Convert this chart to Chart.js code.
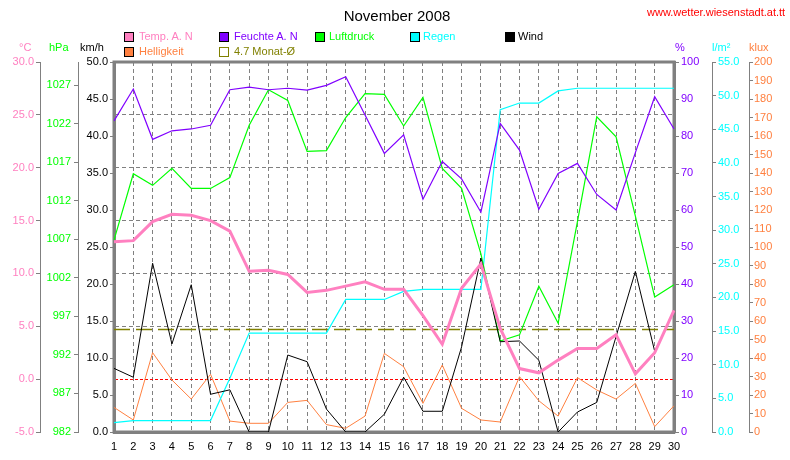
<!DOCTYPE html>
<html>
<head>
<meta charset="utf-8">
<script src="https://cdn.jsdelivr.net/npm/chart.js@4.4.1/dist/chart.umd.min.js"></script>
<style>
  body { margin: 0; background: #fff; }
  #wrap { position: relative; width: 790px; height: 460px; font-family: 'Liberation Sans', Arial, sans-serif; font-size: 11px; line-height: 1; }
  #wrap canvas { position: absolute; left: 0; top: 0; }
  .t { position: absolute; white-space: nowrap; }
  .box { position: absolute; width: 8px; height: 8px; border: 1px solid #000; }
</style>
</head>
<body>
<div id="wrap">
  <canvas id="chart" width="790" height="460"></canvas>

  <div class="t" style="left:0; width:794px; top:8px; text-align:center; font-size:15px; color:#000;">November 2008</div>
  <div class="t" style="left:647px; top:7px; color:#ff0000;">www.wetter.wiesenstadt.at.tt</div>

  <!-- Legende -->
  <div class="box" style="left:124px; top:32px; background:#ff80c0;"></div>
  <div class="t" style="left:139px; top:31px; color:#ff80c0;">Temp. A. N</div>
  <div class="box" style="left:219px; top:32px; background:#8000ff;"></div>
  <div class="t" style="left:234px; top:31px; color:#8000ff;">Feuchte A. N</div>
  <div class="box" style="left:315px; top:32px; background:#00ff00;"></div>
  <div class="t" style="left:329px; top:31px; color:#00ff00;">Luftdruck</div>
  <div class="box" style="left:410px; top:32px; background:#00ffff;"></div>
  <div class="t" style="left:423px; top:31px; color:#00ffff;">Regen</div>
  <div class="box" style="left:505px; top:32px; background:#000000;"></div>
  <div class="t" style="left:518px; top:31px; color:#000000;">Wind</div>
  <div class="box" style="left:124px; top:47px; background:#ff8040;"></div>
  <div class="t" style="left:139px; top:46px; color:#ff8040;">Helligkeit</div>
  <div class="box" style="left:219px; top:47px; border-color:#808000; background:#fff;"></div>
  <div class="t" style="left:234px; top:46px; color:#808000;">4.7 Monat-Ø</div>

  <!-- Einheiten -->
  <div class="t" style="left:19px; top:42px; color:#ff80c0;">°C</div>
  <div class="t" style="left:49px; top:42px; color:#00ff00;">hPa</div>
  <div class="t" style="left:80px; top:42px; color:#000000;">km/h</div>
  <div class="t" style="left:675px; top:42px; color:#8000ff;">%</div>
  <div class="t" style="left:712px; top:42px; color:#00ffff;">l/m²</div>
  <div class="t" style="left:749px; top:42px; color:#ff8040;">klux</div>
</div>

<script>
// Tage
const days = ['1', '2', '3', '4', '5', '6', '7', '8', '9', '10', '11', '12', '13', '14', '15',
              '16', '17', '18', '19', '20', '21', '22', '23', '24', '25', '26', '27', '28', '29', '30'];

const tempData  = [13.0, 13.1, 14.9, 15.6, 15.5, 15.0, 14.0, 10.2, 10.3, 9.9, 8.2, 8.4, 8.8, 9.2, 8.5,
                   8.5, 6.0, 3.3, 8.6, 10.9, 4.8, 1.0, 0.6, 1.8, 2.9, 2.9, 4.2, 0.5, 2.5, 6.5];
const humData   = [84.1, 92.7, 79.1, 81.4, 81.9, 82.9, 92.5, 93.2, 92.5, 92.9, 92.4, 93.7, 96.0, 85.7, 75.3,
                   80.3, 62.9, 73.1, 68.4, 59.4, 83.4, 76.2, 60.2, 69.9, 72.6, 64.2, 60.0, 75.5, 90.6, 81.9];
const pressData = [1006.9, 1015.5, 1014.0, 1016.2, 1013.6, 1013.6, 1015.0, 1021.8, 1026.4, 1025.0, 1018.4, 1018.5, 1022.8, 1025.9, 1025.8,
                   1021.7, 1025.4, 1016.2, 1013.6, 1005.1, 993.8, 994.6, 1000.9, 996.1, 1009.3, 1022.9, 1020.3, 1010.0, 999.5, 1001.1];
const rainData  = [1.4, 1.7, 1.7, 1.7, 1.7, 1.7, 8.0, 14.7, 14.7, 14.7, 14.7, 14.7, 19.7, 19.7, 19.7,
                   20.9, 21.2, 21.2, 21.2, 21.2, 47.9, 48.9, 48.9, 50.7, 51.1, 51.1, 51.1, 51.1, 51.1, 51.1];
const windData  = [8.6, 7.4, 22.8, 11.9, 19.9, 5.1, 5.7, 0, 0, 10.4, 9.5, 3.1, 0, 0, 2.4,
                   7.4, 2.8, 2.8, 11.5, 23.5, 12.2, 12.3, 9.7, 0, 2.7, 4.0, 12.9, 21.7, 10.9, null];
const luxData   = [13.3, 6.5, 42.9, 28.1, 17.8, 31.2, 5.9, 4.7, 4.7, 16.0, 17.1, 4.0, 2.0, 8.6, 42.5,
                   35.3, 15.5, 36.2, 12.8, 6.5, 5.4, 29.9, 16.9, 8.6, 29.4, 22.7, 17.8, 26.3, 2.9, 14.2];
const avgTemp = 4.7; // Monatsmittel

// Achsenbeschriftungen
const tempTicks = [-5, 0, 5, 10, 15, 20, 25, 30];
const hpaTicks  = [982, 987, 992, 997, 1002, 1007, 1012, 1017, 1022, 1027];
const windTicks = [0, 5, 10, 15, 20, 25, 30, 35, 40, 45, 50];
const humTicks  = [0, 10, 20, 30, 40, 50, 60, 70, 80, 90, 100];
const rainTicks = [0, 5, 10, 15, 20, 25, 30, 35, 40, 45, 50, 55];
const luxTicks  = [0, 10, 20, 30, 40, 50, 60, 70, 80, 90, 100, 110, 120, 130, 140, 150, 160, 170, 180, 190, 200];

const GREY = '#808080';

Chart.defaults.font.family = "'Liberation Sans', Arial, sans-serif";
Chart.defaults.font.size = 11;

function fixTicks(list) {
    return function (scale) { scale.ticks = list.map(v => ({ value: v })); };
}
function fixWidth(w) {
    return function (scale) { scale.width = w; };
}
// Nebenachse ohne Gitter im Diagramm
function sideAxis(pos, weight, min, max, list, width, color, tickLen, pad, digits) {
    return {
        position: pos, weight: weight, min: min, max: max,
        afterBuildTicks: fixTicks(list),
        afterFit: fixWidth(width),
        grid: { drawOnChartArea: false, tickColor: GREY, tickLength: tickLen },
        border: { color: GREY, width: 1 },
        ticks: { color: color, padding: pad, callback: v => v.toFixed(digits) }
    };
}

// Rahmen um den Plotbereich
const frame = {
    id: 'frame',
    beforeDatasetsDraw(chart) {
        const a = chart.chartArea, c = chart.ctx;
        c.save();
        c.strokeStyle = GREY;
        c.lineWidth = 3;
        c.strokeRect(a.left, a.top, a.right - a.left, a.bottom - a.top);
        c.restore();
    }
};

const yTemp = sideAxis('left', 2, -5, 30, tempTicks, 40, '#ff80c0', 4, 2, 1);
yTemp.grid = {
    drawOnChartArea: true,
    tickColor: GREY,
    tickLength: 4,
    color: ctx => {
        const v = ctx.tick ? ctx.tick.value : null;
        if (v === 0) return '#ff0000';
        if (v === -5 || v === 30) return 'rgba(0,0,0,0)';
        return GREY;
    }
};
yTemp.border = { color: GREY, width: 1, dash: ctx => (ctx.tick && ctx.tick.value === 0) ? [3, 2] : [4, 3] };

const yWind = sideAxis('left', 0, 0, 50, windTicks, 36, '#000000', 4, 2, 1);
yWind.border = { color: GREY, width: 3 };
const yHum = sideAxis('right', 0, 0, 100, humTicks, 38, '#8000ff', 5, 2, 0);
yHum.border = { color: GREY, width: 3 };

new Chart(document.getElementById('chart'), {
    type: 'line',
    data: {
        labels: days,
        datasets: [
            { label: 'Temp. A. N', data: tempData, yAxisID: 'yTemp', borderColor: '#ff80c0', borderWidth: 3 },
            { label: 'Wind', data: windData, yAxisID: 'yWind', borderColor: '#000000', borderWidth: 1 },
            { label: 'Feuchte A. N', data: humData, yAxisID: 'yHum', borderColor: '#8000ff', borderWidth: 1.2 },
            { label: 'Luftdruck', data: pressData, yAxisID: 'yHpa', borderColor: '#00ff00', borderWidth: 1.2 },
            { label: 'Regen', data: rainData, yAxisID: 'yRain', borderColor: '#00ffff', borderWidth: 1.2 },
            { label: 'Helligkeit', data: luxData, yAxisID: 'yLux', borderColor: '#ff8040', borderWidth: 1 },
            { label: '4.7 Monat-Ø', data: [{ x: '1', y: avgTemp }, { x: '30', y: avgTemp }], yAxisID: 'yTemp',
              borderColor: '#808000', borderWidth: 1.5, borderDash: [16, 6] }
        ]
    },
    options: {
        responsive: false,
        animation: false,
        layout: { padding: { top: 62, left: 0, right: 0, bottom: 0 } },
        elements: {
            point: { radius: 0, hoverRadius: 0 },
            line: { tension: 0, fill: false }
        },
        plugins: {
            legend: { display: false },
            tooltip: { enabled: false }
        },
        scales: {
            x: {
                grid: {
                    drawTicks: false,
                    color: ctx => (ctx.index === 0 || ctx.index === days.length - 1) ? 'rgba(0,0,0,0)' : GREY
                },
                border: { color: GREY, width: 3, dash: [4, 3] },
                ticks: { color: '#000000', padding: 8, autoSkip: false, maxRotation: 0 },
                afterFit: s => { s.height = 28; }
            },
            yTemp: yTemp,
            yHpa: sideAxis('left', 1, 982, 1030, hpaTicks, 38, '#00ff00', 4, 3, 0),
            yWind: yWind,
            yHum: yHum,
            yRain: sideAxis('right', 1, 0, 55, rainTicks, 37, '#00ffff', 4, 2, 1),
            yLux: sideAxis('right', 2, 0, 200, luxTicks, 41, '#ff8040', 4, 1, 0)
        }
    },
    plugins: [frame]
});
</script>
</body>
</html>
